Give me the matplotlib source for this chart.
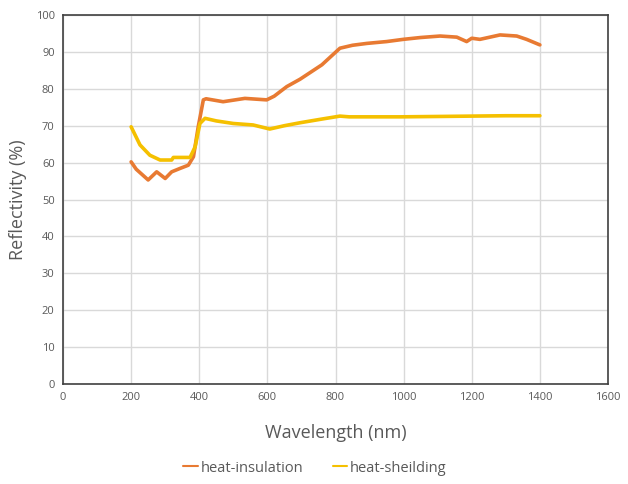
import matplotlib
matplotlib.use("Agg")
import matplotlib.pyplot as plt

plt.rcParams['font.family'] = ['Open Sans', 'DejaVu Sans']

# heat-insulation (orange)
ins_wl = [200, 215, 250, 275, 300, 319, 343, 368, 383, 397, 412, 420, 470, 534, 598, 620, 657, 696,
          760, 813, 850, 892, 950, 999, 1050, 1107, 1156, 1185, 1200, 1224, 1283, 1332, 1361, 1400]
ins_val = [60.2, 58.2, 55.3, 57.5, 55.7, 57.5, 58.4, 59.3, 61.6, 69.7, 77.0, 77.3, 76.5, 77.4, 77.0, 78.0, 80.6, 82.6,
           86.5, 91.0, 91.8, 92.3, 92.8, 93.4, 93.9, 94.3, 94.0, 92.8, 93.7, 93.4, 94.6, 94.3, 93.4, 91.9]

# heat-sheilding (yellow)
shd_wl = [200, 226, 255, 285, 319, 324, 373, 388, 402, 417, 450, 500, 558, 607, 650, 696, 760, 813, 840,
          900, 989, 1100, 1200, 1300, 1400]
shd_val = [69.7, 64.8, 62.0, 60.7, 60.7, 61.4, 61.4, 64.3, 70.6, 72.0, 71.3, 70.6, 70.2, 69.1, 70.0, 70.8, 71.8, 72.6, 72.4,
           72.4, 72.4, 72.5, 72.6, 72.7, 72.7]

x_ticks = [0, 200, 400, 600, 800, 1000, 1200, 1400, 1600]
y_ticks = [0, 10, 20, 30, 40, 50, 60, 70, 80, 90, 100]

fig = plt.figure(figsize=(6.28, 4.84), dpi=100)
ax = fig.add_axes([63/628, 1-384/484, (608-63)/628, (384-15)/484])

ax.plot(ins_wl, ins_val, color='#E87A32', lw=2.6, label='heat-insulation', solid_capstyle='round')
ax.plot(shd_wl, shd_val, color='#F5C000', lw=2.6, label='heat-sheilding', solid_capstyle='round')

ax.set_xlim(0, 1600)
ax.set_ylim(0, 100)
ax.set_xticks(x_ticks)
ax.set_yticks(y_ticks)
ax.grid(True, color='#D9D9D9', lw=1)
ax.set_axisbelow(True)
ax.tick_params(length=0, labelsize=8, labelcolor='#595959', pad=6)
for s in ax.spines.values():
    s.set_color('#404040')
    s.set_linewidth(1.2)

ax.set_xlabel('Wavelength (nm)', fontsize=13, color='#595959', labelpad=15)
ax.set_ylabel('Reflectivity (%)', fontsize=13, color='#595959', labelpad=6)

fig.legend(loc='center', bbox_to_anchor=(315/628, 1-468/484), ncol=2, frameon=False,
           fontsize=10.5, handlelength=1.0, handletextpad=0.2, columnspacing=2.0,
           labelcolor='#595959')
for h in fig.legends[0].get_lines():
    h.set_linewidth(1.5)

fig.savefig('out.png', dpi=100)
